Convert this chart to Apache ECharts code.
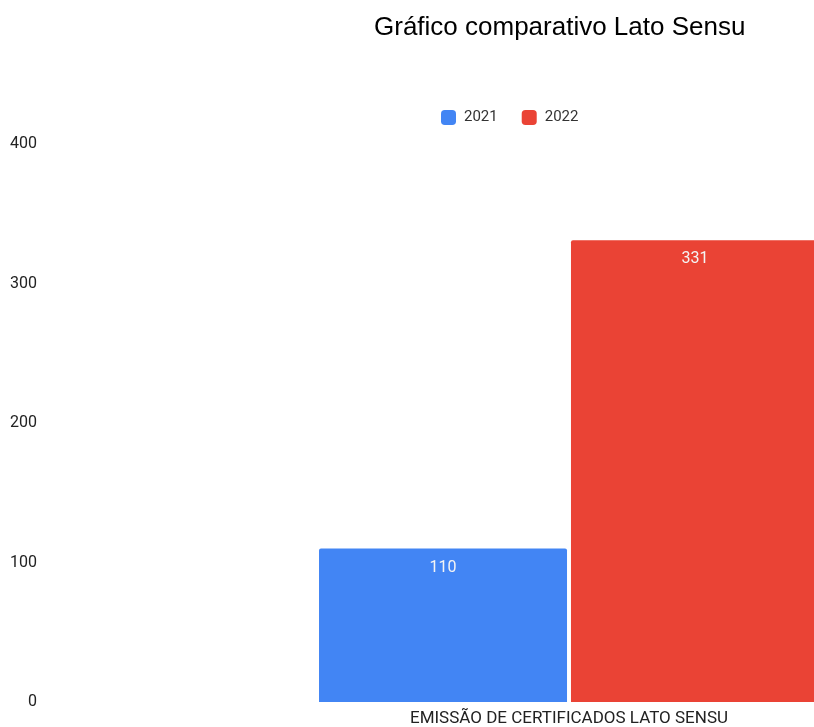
<!DOCTYPE html>
<html>

<head>
  <meta charset="utf-8">
  <title>Gráfico comparativo Lato Sensu</title>
  <script src="https://cdn.jsdelivr.net/npm/echarts@6/dist/echarts.min.js"></script>
  <style>
    html, body { margin: 0; padding: 0; background: #fff; }
  </style>
</head>

<body>
  <div id="main" style="width: 814px;height:727px;"></div>
  <script type="text/javascript">
    var categories = ['EMISSÃO DE CERTIFICADOS LATO SENSU'];
    var seriesNames = ['2021', '2022'];
    var values2021 = [110];
    var values2022 = [331];
    var colors = ['#4285f4', '#ea4335'];

    var myChart = echarts.init(document.getElementById('main'));

    var labelStyle = {
      show: true,
      position: 'insideTop',
      distance: 11,
      color: '#f4f4f4',
      fontFamily: 'Roboto',
      fontSize: 16
    };

    var option = {
      animation: false,
      color: colors,
      title: {
        text: 'Gráfico comparativo Lato Sensu',
        left: 369,
        top: 10,
        textStyle: {
          fontFamily: 'Liberation Sans',
          fontSize: 26,
          fontWeight: 'normal',
          color: '#000'
        }
      },
      legend: {
        top: 105,
        left: 436,
        itemWidth: 15,
        itemHeight: 15,
        itemGap: 24,
        icon: 'roundRect',
        textStyle: {
          fontFamily: 'Roboto',
          fontSize: 15,
          color: '#333',
          padding: [0, 0, 0, 3]
        }
      },
      grid: {
        left: 70,
        top: 144,
        bottom: 25,
        width: 998,
        outerBoundsMode: 'none'
      },
      xAxis: {
        type: 'category',
        data: categories,
        axisLine: { show: false },
        axisTick: { show: false },
        axisLabel: {
          margin: 8,
          fontFamily: 'Roboto',
          fontSize: 17,
          color: '#222'
        }
      },
      yAxis: {
        type: 'value',
        min: 0,
        max: 400,
        interval: 100,
        splitLine: { show: false },
        axisLine: { show: false },
        axisTick: { show: false },
        axisLabel: {
          margin: 33,
          padding: [4, 0, 0, 0],
          fontFamily: 'Roboto',
          fontSize: 16,
          color: '#222'
        }
      },
      series: [
        {
          name: seriesNames[0],
          type: 'bar',
          data: values2021,
          barWidth: 248,
          barGap: '1.6%',
          itemStyle: { borderRadius: [2, 2, 0, 0] },
          label: labelStyle
        },
        {
          name: seriesNames[1],
          type: 'bar',
          data: values2022,
          barWidth: 248,
          barGap: '1.6%',
          itemStyle: { borderRadius: [2, 2, 0, 0] },
          label: labelStyle
        }
      ]
    };

    myChart.setOption(option);
  </script>
</body>

</html>
